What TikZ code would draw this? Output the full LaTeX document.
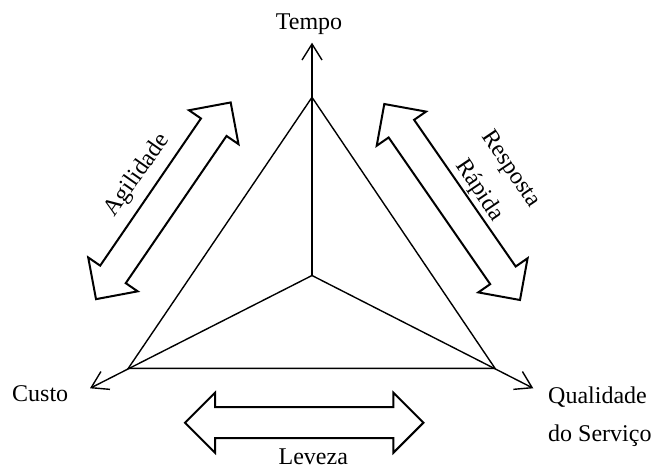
\documentclass[tikz,border=0pt]{standalone}
\usepackage{fontspec}
\setmainfont{Liberation Serif}
\usetikzlibrary{arrows.meta}
\tikzset{
  lbl/.style={font=\fontsize{24}{38.4}\selectfont, inner sep=0pt},
  axis/.style={line width=1.4pt, -{Straight Barb[length=16pt,width=20pt]}},
  edge/.style={line width=1.4pt},
  bigarrow/.style={line width=2pt, line join=miter},
  dblarrow/.pic={\draw[bigarrow] (-119.2,0) -- (-89.2,30) -- (-89.2,15.5) -- (89.2,15.5) -- (89.2,30) -- (119.2,0) -- (89.2,-30) -- (89.2,-15.5) -- (-89.2,-15.5) -- (-89.2,-30) -- cycle;}
}
\begin{document}
\begin{tikzpicture}[x=1pt,y=-1pt]
\path[use as bounding box] (0,0) rectangle (652,468);
% axes
\coordinate (O) at (312,275.5);
\coordinate (T) at (312,42.7);
\coordinate (L) at (90,388.3);
\coordinate (R) at (533.3,388.3);
\coordinate (A) at (312,97.3);
\coordinate (B) at (128.3,368.3);
\coordinate (C) at (495,368.3);
\draw[axis] (O) -- (T);
\draw[axis] (O) -- (L);
\draw[axis] (O) -- (R);
\draw[edge, line join=miter] (A) -- (B) -- (C) -- cycle;
% big double arrows
\pic (agil) [rotate=55.6] at (163.35,200.8) {dblarrow};
\pic (resp) [rotate=-55.3] at (452.15,202) {dblarrow};
\pic (leve) at (304.2,422.7) {dblarrow};
% labels
\node[lbl, anchor=base] (tempo) at (309,29.5) {Tempo};
\node[lbl, anchor=base west] (custo) at (12,401.7) {Custo};
\node[lbl, anchor=base west, align=left] (qual) at (548,441.7) {Qualidade\\do Serviço};
\node[lbl, anchor=base] (leveza) at (313.3,464) {Leveza};
\node[lbl, anchor=base, rotate=55] (agilidade) at (142,178.5) {Agilidade};
\node[lbl, align=center, rotate=-56] (resposta) at (494.5,180) {Resposta\\Rápida};
\end{tikzpicture}
\end{document}
